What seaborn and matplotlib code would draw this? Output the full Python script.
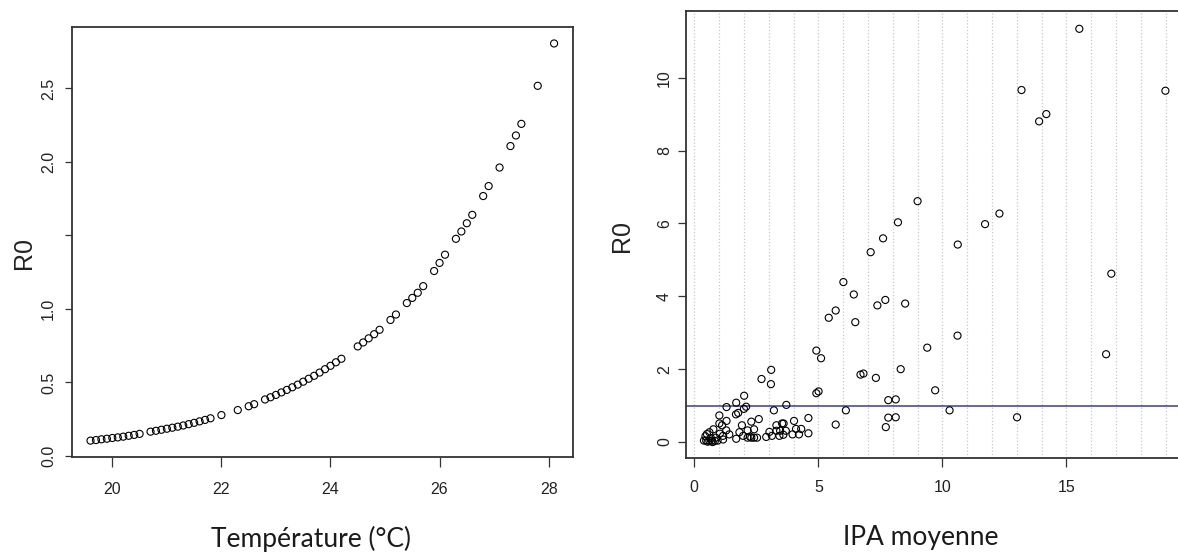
import matplotlib
matplotlib.use('Agg')
import matplotlib.pyplot as plt
import matplotlib.ticker as ticker
import seaborn as sns


sns.set_theme(style='white')
plt.rcParams['font.family'] = ['Liberation Sans', 'DejaVu Sans']


# Panel gauche : R0 selon la température
temperature = [19.6, 19.7, 19.8, 19.9, 20.0, 20.1, 20.2, 20.3, 20.4, 20.5,
               20.7, 20.8, 20.9, 21.0, 21.1, 21.2, 21.3, 21.4, 21.5, 21.6, 21.7, 21.8,
               22.0, 22.3, 22.5, 22.6,
               22.8, 22.9, 23.0, 23.1, 23.2, 23.3, 23.4, 23.5, 23.6, 23.7, 23.8, 23.9, 24.0, 24.1, 24.2,
               24.5, 24.6, 24.7, 24.8, 24.9,
               25.1, 25.2, 25.4, 25.5, 25.6, 25.7,
               25.9, 26.0, 26.1, 26.3, 26.4, 26.5, 26.6, 26.8, 26.9,
               27.1, 27.3, 27.4, 27.5, 27.8, 28.1]
r0_temperature = [0.104, 0.108, 0.113, 0.117, 0.122, 0.126, 0.131, 0.137, 0.143, 0.150,
                  0.165, 0.171, 0.178, 0.185, 0.192, 0.199, 0.207, 0.216, 0.225, 0.235, 0.245, 0.256,
                  0.278, 0.312, 0.338, 0.352,
                  0.384, 0.399, 0.415, 0.432, 0.449, 0.467, 0.485, 0.505, 0.525, 0.545, 0.567, 0.590, 0.613, 0.637, 0.661,
                  0.745, 0.772, 0.800, 0.828, 0.858,
                  0.925, 0.962, 1.040, 1.075, 1.110, 1.155,
                  1.258, 1.313, 1.369, 1.477, 1.527, 1.583, 1.640, 1.768, 1.836,
                  1.962, 2.108, 2.180, 2.259, 2.518, 2.806]

temp_ticks = [20, 22, 24, 26, 28]
r0_temp_ticks = [0.0, 0.5, 1.0, 1.5, 2.0, 2.5]
r0_temp_labels = ['0.0', '0.5', '1.0', '', '2.0', '2.5']

# Panel droit : R0 selon l'IPA moyenne
ipa = [0.39, 0.48, 0.54, 0.61, 0.71, 0.74, 0.83, 0.94, 0.67, 0.45, 0.51, 0.61, 0.77, 0.86,
       1.01, 1.01, 1.12, 1.03, 1.16, 1.16, 1.29, 1.30, 1.30, 1.41,
       1.68, 1.69, 1.69, 1.77, 1.82, 1.92, 1.97, 2.00, 2.01, 2.09, 2.15, 2.15, 2.24, 2.30, 2.30,
       2.41, 2.41, 2.53, 2.60, 2.71,
       2.90, 3.03, 3.09, 3.10, 3.13, 3.21, 3.31, 3.31, 3.43, 3.46, 3.54, 3.59, 3.60, 3.69, 3.71,
       3.96, 4.02, 4.10, 4.22, 4.31, 4.60, 4.60,
       4.92, 4.92, 5.01, 5.11, 5.42, 5.70, 5.70, 6.01, 6.11, 6.43, 6.49, 6.70, 6.82, 7.11,
       7.32, 7.38, 7.61, 7.70, 7.72, 7.82, 7.82, 8.12, 8.12, 8.21, 8.32, 8.50, 9.00, 9.39,
       9.71, 10.29, 10.61, 10.62, 11.72, 12.30, 13.01, 13.19, 13.90, 14.19, 15.52, 16.60,
       16.81, 18.99]
r0_ipa = [0.04, 0.04, 0.01, 0.03, 0.04, 0.00, 0.03, 0.04, 0.11, 0.16, 0.22, 0.27, 0.35, 0.12,
          0.73, 0.51, 0.46, 0.23, 0.17, 0.07, 0.32, 0.58, 0.96, 0.21,
          0.76, 1.08, 0.09, 0.80, 0.27, 0.46, 0.17, 0.91, 1.27, 0.97, 0.32, 0.12, 0.15, 0.12, 0.56,
          0.12, 0.35, 0.12, 0.63, 1.73,
          0.14, 0.28, 1.59, 1.98, 0.17, 0.87, 0.46, 0.31, 0.17, 0.31, 0.51, 0.20, 0.51, 0.31, 1.02,
          0.21, 0.58, 0.36, 0.21, 0.36, 0.66, 0.24,
          2.51, 1.34, 1.39, 2.30, 3.41, 3.61, 0.48, 4.39, 0.87, 4.05, 3.29, 1.85, 1.88, 5.21,
          1.76, 3.75, 5.59, 3.90, 0.41, 1.15, 0.67, 1.17, 0.68, 6.03, 2.00, 3.80, 6.61, 2.59,
          1.42, 0.87, 2.92, 5.42, 5.98, 6.27, 0.68, 9.66, 8.80, 9.00, 11.34, 2.41,
          4.62, 9.64]

ipa_ticks = [0, 5, 10, 15]
r0_ipa_ticks = [0, 2, 4, 6, 8, 10]
seuil = 1


fig = plt.figure(figsize=(11.78, 5.52), dpi=100)
ax1 = fig.add_axes([0.0611, 0.1730, 0.4250, 0.7786])
ax2 = fig.add_axes([0.5820, 0.1708, 0.4231, 0.8087])

for ax, x, y in [(ax1, temperature, r0_temperature), (ax2, ipa, r0_ipa)]:
	sns.scatterplot(x=x, y=y, ax=ax, marker='o', s=26, facecolors='none',
	                edgecolor='black', linewidth=0.8, zorder=3)
	for sp in ax.spines.values():
		sp.set_color('#333333')
		sp.set_linewidth(1.3)
	ax.tick_params(which='major', bottom=True, left=True, direction='out',
	               width=0.9, color='#333333', labelsize=11.5, labelcolor='#222222')
	ax.tick_params(axis='y', labelrotation=90)

# gauche
ax1.set_xlim(19.26, 28.44)
ax1.set_ylim(-0.004, 2.92)
ax1.set_xticks(temp_ticks)
ax1.set_yticks(r0_temp_ticks)
ax1.set_yticklabels(r0_temp_labels)
ax1.tick_params(axis='x', length=7.2, pad=11.2)
ax1.tick_params(axis='y', length=5.4, pad=6.0)

# droite
ax2.set_xlim(-0.35, 19.74)
ax2.set_ylim(-0.43, 11.82)
ax2.set_xticks(ipa_ticks)
ax2.set_yticks(r0_ipa_ticks)
ax2.xaxis.set_minor_locator(ticker.MultipleLocator(1))
ax2.tick_params(which='minor', length=0)
ax2.grid(which='both', axis='x', color='#c8c8c8', linestyle=':', linewidth=0.9)
ax2.set_axisbelow(True)
ax2.axhline(seuil, color='#3b3b9c', linewidth=1.1, zorder=2)
ax2.tick_params(axis='x', length=6.5, pad=9.6)
ax2.tick_params(axis='y', length=5.8, pad=3.9)

for ax in (ax1, ax2):
	for lab in ax.get_yticklabels():
		lab.set_va('center')

# titres d'axes
fig.text(24.4 / 1178, 1 - 253 / 552, 'R0', rotation=90, ha='center', va='center', fontsize=18, color='#222222')
fig.text(622 / 1178, 1 - 236 / 552, 'R0', rotation=90, ha='center', va='center', fontsize=18, color='#222222')
fig.text(311 / 1178, 1 - 539 / 552, 'Température (°C)', ha='center', va='center',
         fontsize=19, family=['Lato', 'DejaVu Sans'], color='#1a1a1a')
fig.text(921 / 1178, 1 - 537 / 552, 'IPA moyenne', ha='center', va='center',
         fontsize=19, family=['Lato', 'DejaVu Sans'], color='#1a1a1a')

plt.savefig('out.png', dpi=100)
